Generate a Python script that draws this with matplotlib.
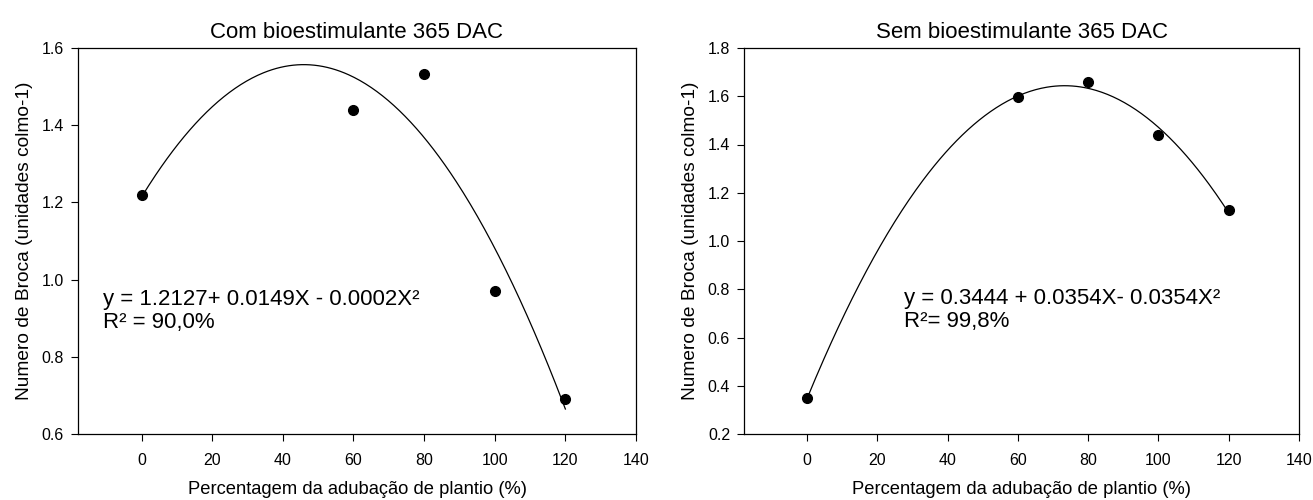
import numpy as np
import matplotlib
matplotlib.use("Agg")
import matplotlib.pyplot as plt

plt.rcParams['font.family'] = ['Liberation Sans', 'DejaVu Sans']

# Data
x_dose = [0, 60, 80, 100, 120]
y_com = [1.22, 1.44, 1.533, 0.97, 0.69]
y_sem = [0.348, 1.596, 1.658, 1.44, 1.128]

titles = ["Com bioestimulante 365 DAC", "Sem bioestimulante 365 DAC"]
eq_texts = ["y = 1.2127+ 0.0149X - 0.0002X²\nR² = 90,0%",
            "y = 0.3444 + 0.0354X- 0.0354X²\nR²= 99,8%"]
xlabel = "Percentagem da adubação de plantio (%)"
ylabel = "Numero de Broca (unidades colmo-1)"
x_ticks = [0, 20, 40, 60, 80, 100, 120, 140]
y_ticks_com = [0.6, 0.8, 1.0, 1.2, 1.4, 1.6]
y_ticks_sem = [0.2, 0.4, 0.6, 0.8, 1.0, 1.2, 1.4, 1.6, 1.8]

fig = plt.figure(figsize=(13.13, 5.0), dpi=100)
ax1 = fig.add_axes([78/1313, 66/500, 558/1313, 386/500])
ax2 = fig.add_axes([744/1313, 66/500, 555/1313, 386/500])

configs = [
    (ax1, y_com, y_ticks_com, (0.6, 1.6), eq_texts[0], titles[0], (103, 311)),
    (ax2, y_sem, y_ticks_sem, (0.2, 1.8), eq_texts[1], titles[1], (904, 310)),
]

for ax, ys, yt, ylim, eq, title, (tx, ty) in configs:
    coef = np.polyfit(x_dose, ys, 2)
    xs = np.linspace(min(x_dose), max(x_dose), 300)
    ax.plot(xs, np.polyval(coef, xs), color='black', lw=0.9)
    ax.plot(x_dose, ys, 'o', color='black', markersize=7, zorder=3)
    ax.set_xlim(-18, 140)
    ax.set_ylim(*ylim)
    ax.set_xticks(x_ticks)
    ax.set_yticks(yt)
    ax.set_yticklabels([f"{v:.1f}" for v in yt])
    ax.tick_params(direction='out', length=5, width=0.8, labelsize=11.5, pad=5)
    ax.tick_params(axis='x', pad=9)
    for s in ax.spines.values():
        s.set_linewidth(0.9)
    ax.set_title(title, fontsize=16, pad=7)
    ax.set_xlabel(xlabel, fontsize=13.2, labelpad=9)
    ax.set_ylabel(ylabel, fontsize=13.8, labelpad=6)
    ax.text(tx/1313, 1 - ty/500, eq, transform=fig.transFigure,
            fontsize=16, ha='left', va='center', linespacing=1.1)

fig.savefig("out.png", dpi=100)
